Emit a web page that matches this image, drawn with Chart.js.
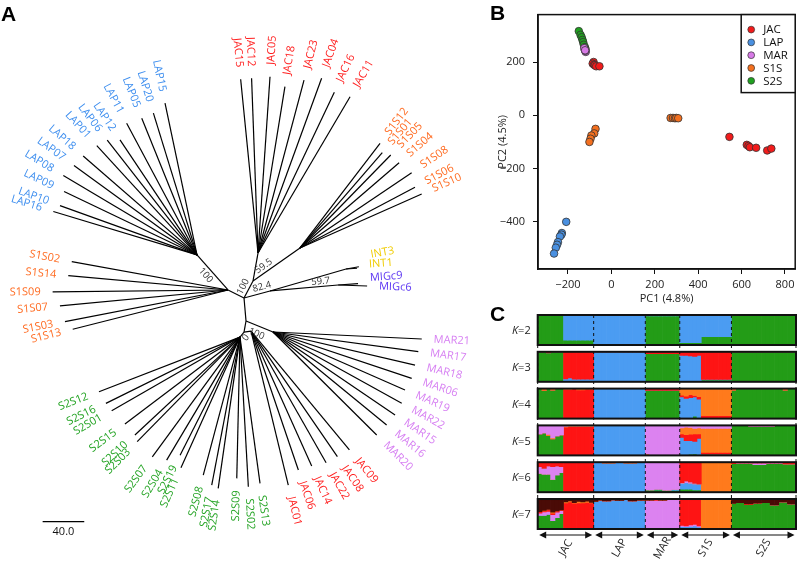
<!DOCTYPE html>
<html><head><meta charset="utf-8">
<script src="https://cdn.jsdelivr.net/npm/chart.js@4.4.0/dist/chart.umd.min.js"></script>
<style>
html,body{margin:0;padding:0;background:#fff;width:800px;height:563px;overflow:hidden;position:relative}
canvas{position:absolute}
.panel{position:absolute;font:bold 21px 'Liberation Sans',Arial,sans-serif;line-height:24px;color:#000}
</style></head><body>
<canvas id="tree" width="490" height="563" style="left:0;top:0"></canvas>
<canvas id="pca" width="310" height="305" style="left:490px;top:0"></canvas>
<canvas id="struct" width="310" height="263" style="left:490px;top:300px"></canvas>
<div class="panel" style="left:1px;top:2px">A</div>
<div class="panel" style="left:490px;top:1px">B</div>
<div class="panel" style="left:490px;top:302px">C</div>
<script>
// ================= DATA =================
// ---- Panel A: unrooted tree. Internal nodes: [node, parent, angle(deg), branch length]
const TREE_NODES = [
  ['S1Sl','N1',153.4,17.2], ['LAPc','S1Sl',131.5,45.0],
  ['A59','N1',62.1,18.5], ['JACt','A59',79.9,27.3], ['S1Sr','A59',35.1,55.2],
  ['M1','N1',15.1,25.9], ['INTc','M1',16.1,76.1], ['MIGc','M1',5.0,65.7],
  ['N2','N1',-85.0,22.2], ['MARc','N2',-22.2,28.0], ['N3','N2',-100.3,10.8],
  ['S2Sc','N3',-128.7,6.2], ['JACb','N3',8.1,6.8]
];
// tips: [label, angle(deg), branch length]
const LAP_TIPS = [['LAP15',101.9,149.1],['LAP20',107.1,142.6],['LAP05',112.0,141.8],['LAP11',118.1,143.6],['LAP12',123.8,133.1],['LAP06',128.0,140.2],['LAP01',132.5,142.6],['LAP18',139.0,145.0],['LAP07',144.0,146.2],['LAP08',149.3,149.5],['LAP09',154.5,141.6],['LAP10',160.2,140.0],['LAP16',163.2,144.3]];
const JAC_TOP_TIPS = [['JAC15',95.7,167.9],['JAC12',92.1,168.1],['JAC05',86.1,169.9],['JAC18',80.8,162.0],['JAC23',75.1,172.1],['JAC04',70.0,178.8],['JAC16',64.6,171.1],['JAC11',59.5,174.4]];
const S1S_RIGHT_TIPS = [['S1S12',52.6,126.7],['S1S01',49.2,121.1],['S1S05',45.7,124.9],['S1S04',40.7,125.7],['S1S08',34.0,129.5],['S1S06',27.8,125.0],['S1S10',23.9,128.0]];
const S1S_LEFT_TIPS = [['S1S02',169.7,152.7],['S1S14',174.9,154.2],['S1S09',180.6,168.6],['S1S07',185.4,162.3],['S1S03',191.0,159.7],['S1S13',194.2,154.0]];
const INT_TIPS = [['INT3',10,12.5],['INT1',4,10.6]];
const MIGC_TIPS = [['MIGc9',4,19.2],['MIGc6',-2,27.9]];
const MAR_TIPS = [['MAR21',-2.7,143.2],['MAR17',-7.7,141.0],['MAR18',-13.1,140.2],['MAR06',-18.5,140.6],['MAR19',-23.7,138.6],['MAR22',-29.0,141.5],['MAR15',-34.2,141.9],['MAR16',-39.3,141.2],['MAR20',-44.8,140.5]];
const JAC_BOTTOM_TIPS = [['JAC09',-50.4,148.4],['JAC08',-55.5,146.6],['JAC22',-60.3,145.7],['JAC14',-65.8,142.3],['JAC06',-71.2,141.2],['JAC01',-76.4,152.4]];
const S2S_TIPS = [['S2S12',201.2,145.4],['S2S16',206.3,143.8],['S2S01',209.9,142.3],['S2S15',217.1,138.7],['S2S10',223.0,138.1],['S2S03',225.5,141.0],['S2S07',233.8,142.7],['S2S04',239.2,137.7],['S2S19',243.1,127.3],['S2S11',245.7,137.9],['S2S08',255.1,137.3],['S2S17',259.2,144.9],['S2S14',261.8,146.9],['S2S09',268.7,135.9],['S2S02',273.2,144.1],['S2S13',277.8,142.0]];
const SUPPORT = [['100','LAPc'],['100','A59'],['59.5','S1Sr'],['82.4','M1'],['59.7','MIGc'],['100','MARc'],['0','S2Sc']];
const SCALE_BAR = 40.0;

// ---- Panel B: PCA (PC1, PC2)
const PCA_GROUPS = ['JAC','LAP','MAR','S1S','S2S'];
const PC_JAC = [[-82,200],[-86,194],[-80,190],[-76,188],[-70,184],[-55,184],[544,-81],[624,-111],[632,-115],[638,-120],[667,-122],[718,-132],[737,-125]];
const PC_LAP = [[-208,-400],[-228,-442],[-230,-448],[-237,-455],[-246,-476],[-250,-486],[-256,-497],[-264,-519]];
const PC_MAR = [[-118,238],[-120,242],[-122,246],[-125,252],[-121,244]];
const PC_S1S = [[273,-10],[284,-10],[293,-11],[299,-10],[308,-11],[-73,-51],[-79,-68],[-92,-76],[-96,-88],[-101,-100]];
const PC_S2S = [[-150,316],[-142,302],[-137,293],[-133,283],[-130,275],[-127,265],[-122,256],[-119,249]];
const PC1_TICKS = [-200,0,200,400,600,800];
const PC2_TICKS = [-400,-200,0,200];

// ---- Panel C: ancestry proportions. Runs of individuals: [count, q1..qK] (top to bottom)
const STRUCT_GROUPS = ['JAC','LAP','MAR','S1S','S2S'];
const STRUCT_SIZES = [13,12,8,12,15];
const Q_K2 = [[6,0,1],[7,0.84,0.16],[12,1,0],[8,0.03,0.97],[5,0.92,0.08],[7,0.72,0.28],[15,0,1]];
const Q_K3 = [[2,0,0,1],[1,0.04,0,0.96],[3,0,0,1],[1,0.9,0.1,0],[1,0.87,0.13,0],[5,0.91,0.09,0],[12,0,1,0],[8,0.06,0,0.94],[2,0.12,0.88,0],[1,0.14,0.83,0.03],[1,0.15,0.83,0.02],[1,0.12,0.86,0.02],[7,0.92,0.02,0.06],[15,0,0,1]];
const Q_K4 = [[1,0,0,0,1],[1,0.06,0,0,0.94],[1,0,0,0,1],[1,0.05,0,0,0.95],[2,0,0,0,1],[2,0.03,0.97,0,0],[1,0,1,0,0],[2,0.04,0.96,0,0],[2,0.02,0.98,0,0],[12,0,0,1,0],[8,0,0.06,0,0.94],[1,0.22,0.06,0.72,0],[1,0.25,0.08,0.67,0],[1,0.2,0.1,0.7,0],[1,0.23,0.05,0.64,0.08],[1,0.27,0.08,0.65,0],[7,0.9,0.08,0,0.02],[1,0.05,0,0,0.95],[11,0,0,0,1],[1,0.05,0,0,0.95],[2,0,0,0,1]];
const Q_K5 = [[1,0.28,0,0,0,0.72],[1,0.25,0,0,0,0.75],[1,0.3,0.04,0,0,0.66],[1,0.42,0.03,0,0,0.55],[1,0.35,0,0,0,0.65],[1,0.32,0,0,0,0.68],[1,0.03,0.03,0.94,0,0],[6,0.02,0.02,0.96,0,0],[12,0,0,0,1,0],[1,0.95,0.05,0,0,0],[7,1,0,0,0,0],[1,0.08,0.2,0.12,0.6,0],[1,0.06,0.25,0.2,0.49,0],[1,0.07,0.22,0.22,0.45,0.04],[1,0.1,0.18,0.25,0.42,0.05],[1,0.08,0.2,0.15,0.57,0],[7,0.1,0.8,0.06,0,0.04],[4,0,0,0,0,1],[6,0.03,0,0,0,0.97],[5,0,0,0,0,1]];
const Q_K6 = [[1,0.15,0,0.22,0,0,0.63],[1,0.2,0,0.2,0,0,0.6],[1,0.12,0,0.28,0,0,0.6],[1,0.15,0,0.42,0,0,0.43],[1,0.12,0,0.3,0,0,0.58],[1,0.15,0,0.2,0,0,0.65],[7,1,0,0,0,0,0],[2,0,0,0,0,1,0],[3,0,0.04,0,0,0.96,0],[2,0,0,0,0,1,0],[3,0,0.04,0,0,0.96,0],[2,0,0,0,0,1,0],[2,0,0,0.92,0,0,0.08],[2,0,0,0.9,0,0.02,0.08],[2,0,0,0.93,0,0,0.07],[2,0,0,0.91,0,0.03,0.06],[1,0.68,0,0.02,0,0.2,0.1],[1,0.62,0,0.06,0,0.22,0.1],[1,0.66,0,0.04,0,0.2,0.1],[1,0.7,0,0.02,0,0.2,0.08],[1,0.72,0,0,0,0.2,0.08],[7,0,0,0,0.98,0,0.02],[1,0.05,0,0,0,0,0.95],[4,0.02,0,0.02,0,0,0.96],[3,0.02,0,0.06,0,0,0.92],[4,0.02,0,0.03,0,0,0.95],[3,0.06,0,0,0,0,0.94]];
const Q_K7 = [[1,0.42,0,0.05,0.08,0,0.45,0],[1,0.38,0.02,0.03,0.12,0,0.45,0],[1,0.35,0,0.06,0.1,0,0.49,0],[1,0.44,0.03,0.05,0.2,0,0.28,0],[1,0.4,0,0.04,0.18,0,0.38,0],[1,0.36,0,0.03,0.1,0,0.51,0],[1,0.1,0.03,0.87,0,0,0,0],[1,0.06,0.04,0.9,0,0,0,0],[1,0.12,0.02,0.86,0,0,0,0],[1,0.08,0.05,0.87,0,0,0,0],[1,0.1,0.03,0.87,0,0,0,0],[1,0.07,0.04,0.89,0,0,0,0],[1,0.11,0.02,0.87,0,0,0,0],[1,0.08,0,0,0,0.92,0,0],[1,0.04,0,0,0,0.96,0,0],[2,0.06,0,0,0,0.94,0,0],[1,0.03,0,0,0,0.97,0,0],[2,0.05,0,0,0,0.95,0,0],[1,0.02,0,0,0,0.98,0,0],[2,0.06,0,0,0,0.94,0,0],[2,0.04,0,0,0,0.96,0,0],[2,0.04,0,0,0.96,0,0,0],[1,0.02,0,0.03,0.95,0,0,0],[2,0.04,0,0,0.96,0,0,0],[3,0.02,0,0,0.98,0,0,0],[1,0,0,0.88,0.04,0.08,0,0],[1,0,0,0.9,0.02,0.08,0,0],[1,0,0,0.86,0.05,0.09,0,0],[1,0,0,0.85,0.05,0.07,0.03,0],[1,0,0,0.9,0.03,0.05,0,0.02],[7,0,1,0,0,0,0,0],[1,0.15,0,0,0,0,0.85,0],[2,0.12,0,0,0,0,0.88,0],[2,0.16,0,0.03,0,0,0.81,0],[2,0.14,0,0,0,0,0.86,0],[2,0.12,0,0,0,0,0.88,0],[2,0.2,0,0,0,0,0.8,0],[2,0.1,0,0,0,0,0.9,0],[2,0.16,0,0,0,0,0.84,0]];

// ================= STYLE =================
const FONT = "'Open Sans', 'Liberation Sans', sans-serif";
const TIP_COLORS = {JAC:'#ff1f1f', LAP:'#3f8fef', S1S:'#ff6b21', S2S:'#22a322', MAR:'#d67ef2', INT:'#f0cc00', MIG:'#5b35f2'};
const PCA_COLORS = {JAC:'#f21b1b', LAP:'#4a90e0', MAR:'#d77ae6', S1S:'#f4701f', S2S:'#20a020'};
const GREEN='#239c17', BLUE='#4b9cf2', RED='#fe1414', ORANGE='#ff7a1c', PINK='#dc82f0', DARK='#4a0b06', TAN='#b5693d';
// label de-overlap nudges (screen px, vertical) for crowded tips
const LABEL_NUDGE = {INT3:-10, INT1:-3, MIGc9:-5};

// ================= PANEL A =================
const rad = d => d * Math.PI / 180;
const pos = {N1:{x:0,y:0}};
const branches = [];
for (const [n,p,a,l] of TREE_NODES) {
  pos[n] = {x: pos[p].x + l*Math.cos(rad(a)), y: pos[p].y + l*Math.sin(rad(a)), a: a, parent: p};
  branches.push([pos[p], pos[n]]);
}
const CLADES = [[LAP_TIPS,'LAPc'],[JAC_TOP_TIPS,'JACt'],[S1S_RIGHT_TIPS,'S1Sr'],[S1S_LEFT_TIPS,'S1Sl'],[INT_TIPS,'INTc'],[MIGC_TIPS,'MIGc'],[MAR_TIPS,'MARc'],[JAC_BOTTOM_TIPS,'JACb'],[S2S_TIPS,'S2Sc']];
const tips = [];
for (const [list, node] of CLADES) {
  for (const [lab,a,l] of list) {
    const t = {label: lab, a: a, x: pos[node].x + l*Math.cos(rad(a)), y: pos[node].y + l*Math.sin(rad(a))};
    tips.push(t);
    branches.push([pos[node], t]);
  }
}
const treeDatasets = branches.map(([p,c]) => ({
  data: [{x:p.x,y:p.y},{x:c.x,y:c.y}], showLine:true, borderColor:'#000', borderWidth:1.2,
  pointRadius:0, fill:false, tension:0
}));
const SUPPORT_LAYOUT = {LAPc:[0.55,1,7], A59:[0.5,1,6], S1Sr:[0.3,1,6], M1:[0.75,1,6], MIGc:[0.75,1,5], MARc:[0.5,-1,8], S2Sc:[0.5,1,5]};

function drawRotText(ctx, text, x, y, angDeg, gapAlign) {
  const c = Math.cos(rad(angDeg));
  ctx.save();
  ctx.translate(x, y);
  if (c < -1e-6) { ctx.rotate(-rad(angDeg - 180)); ctx.textAlign = gapAlign ? 'right' : 'center'; }
  else { ctx.rotate(-rad(angDeg)); ctx.textAlign = gapAlign ? 'left' : 'center'; }
  ctx.textBaseline = 'middle';
  ctx.fillText(text, 0, 0);
  ctx.restore();
}

const treeLabels = {
  id:'treeLabels',
  afterDatasetsDraw(chart) {
    const ctx = chart.ctx, xs = chart.scales.x, ys = chart.scales.y;
    const GAP = 12;
    ctx.font = '11px ' + FONT;
    for (const t of tips) {
      const px = xs.getPixelForValue(t.x), py = ys.getPixelForValue(t.y);
      const ax = px + GAP*Math.cos(rad(t.a)), ay = py - GAP*Math.sin(rad(t.a)) + (LABEL_NUDGE[t.label] || 0);
      const key = t.label.startsWith('MIG') ? 'MIG' : t.label.slice(0,3);
      ctx.fillStyle = TIP_COLORS[key];
      drawRotText(ctx, t.label, ax, ay, t.a, true);
    }
    ctx.font = '9.5px ' + FONT;
    ctx.fillStyle = '#333';
    for (const [txt, node] of SUPPORT) {
      const c = pos[node], p = pos[c.parent];
      const [tt, side, off] = SUPPORT_LAYOUT[node];
      const x0 = xs.getPixelForValue(p.x), y0 = ys.getPixelForValue(p.y);
      const x1 = xs.getPixelForValue(c.x), y1 = ys.getPixelForValue(c.y);
      const mx = x0 + (x1-x0)*tt, my = y0 + (y1-y0)*tt;
      const na = rad(c.a + side*90);
      drawRotText(ctx, txt, mx + off*Math.cos(na), my - off*Math.sin(na), c.a, false);
    }
    const bx0 = -193.6, by = -215.1;
    const sx0 = xs.getPixelForValue(bx0), sx1 = xs.getPixelForValue(bx0 + SCALE_BAR), sy = ys.getPixelForValue(by);
    ctx.strokeStyle = '#000'; ctx.lineWidth = 1.2;
    ctx.beginPath(); ctx.moveTo(sx0, sy); ctx.lineTo(sx1, sy); ctx.stroke();
    ctx.fillStyle = '#111'; ctx.font = '11px ' + FONT; ctx.textAlign = 'center'; ctx.textBaseline = 'middle';
    ctx.fillText(SCALE_BAR.toFixed(1), (sx0+sx1)/2, sy + 10);
  }
};

new Chart(document.getElementById('tree'), {
  type:'scatter',
  data:{datasets: treeDatasets},
  options:{
    responsive:false, animation:false, events:[],
    layout:{padding:0},
    plugins:{legend:{display:false}, tooltip:{enabled:false}},
    scales:{
      x:{type:'linear', display:false, min:-234.6, max:236.5},
      y:{type:'linear', display:false, min:-254.8, max:286.5}
    }
  },
  plugins:[treeLabels]
});

// ================= PANEL B =================
const fmt = v => v < 0 ? '\u2212' + Math.abs(v) : String(v);
const PCA_DATA = {JAC:PC_JAC, LAP:PC_LAP, MAR:PC_MAR, S1S:PC_S1S, S2S:PC_S2S};
const pcaBox = {
  id:'pcaBox',
  afterDraw(chart) {
    const ctx = chart.ctx, a = chart.chartArea;
    ctx.save();
    ctx.strokeStyle = '#111'; ctx.lineWidth = 1.5;
    ctx.strokeRect(a.left, a.top, a.right - a.left, a.bottom - a.top);
    const w = 54, h = 78, lx = a.right - w, ly = a.top;
    ctx.fillStyle = '#fff'; ctx.fillRect(lx, ly, w, h);
    ctx.strokeRect(lx, ly, w, h);
    ctx.font = '11.5px ' + FONT; ctx.textBaseline = 'middle'; ctx.textAlign = 'left';
    PCA_GROUPS.forEach((g, i) => {
      const y = ly + 15 + i*12.8;
      ctx.beginPath(); ctx.arc(lx + 10, y, 3.4, 0, 2*Math.PI);
      ctx.fillStyle = PCA_COLORS[g]; ctx.fill();
      ctx.lineWidth = 0.7; ctx.strokeStyle = '#333'; ctx.stroke();
      ctx.fillStyle = '#111'; ctx.fillText(g, lx + 22, y + 0.5);
    });
    ctx.restore();
  }
};
new Chart(document.getElementById('pca'), {
  type:'scatter',
  data:{datasets: PCA_GROUPS.map(g => ({
    label:g, data: PCA_DATA[g].map(([x,y]) => ({x,y})),
    backgroundColor: PCA_COLORS[g], borderColor:'#333', borderWidth:0.8, pointRadius:3.8
  }))},
  options:{
    responsive:false, animation:false, events:[],
    layout:{padding:{top:9, right:3, left:0, bottom:0}},
    plugins:{legend:{display:false}, tooltip:{enabled:false}},
    scales:{
      x:{type:'linear', min:-338, max:847,
         afterFit(s){ s.height = 36; },
         afterBuildTicks(s){ s.ticks = PC1_TICKS.map(v => ({value:v})); },
         ticks:{color:'#222', padding:4, maxRotation:0, autoSkip:false, font:{family:FONT, size:11}, callback:fmt},
         grid:{drawOnChartArea:false, drawTicks:true, tickLength:5, tickColor:'#111', tickWidth:1},
         border:{display:true, color:'#111', width:1.5},
         title:{display:true, text:'PC1 (4.8%)', color:'#222', font:{family:FONT, size:11}, padding:{top:0,bottom:0}}},
      y:{type:'linear', min:-577, max:378,
         afterFit(s){ s.width = 48; },
         afterBuildTicks(s){ s.ticks = PC2_TICKS.map(v => ({value:v})); },
         ticks:{color:'#222', padding:8, autoSkip:false, font:{family:FONT, size:11}, callback:fmt},
         grid:{drawOnChartArea:false, drawTicks:true, tickLength:5, tickColor:'#111', tickWidth:1},
         border:{display:true, color:'#111', width:1.5},
         title:{display:true, text:'PC2 (4.5%)', color:'#222', font:{family:FONT, size:11}, padding:{top:6,bottom:0}}}
    }
  },
  plugins:[pcaBox]
});

// ================= PANEL C =================
const ROWS = [
  {k:2, q:Q_K2, colors:[BLUE,GREEN]},
  {k:3, q:Q_K3, colors:[RED,BLUE,GREEN]},
  {k:4, q:Q_K4, colors:[ORANGE,RED,BLUE,GREEN]},
  {k:5, q:Q_K5, colors:[PINK,ORANGE,RED,BLUE,GREEN]},
  {k:6, q:Q_K6, colors:[RED,TAN,PINK,ORANGE,BLUE,GREEN]},
  {k:7, q:Q_K7, colors:[DARK,ORANGE,RED,PINK,BLUE,GREEN,TAN]}
];
const ROW_GAP = 0.227;
const indLabels = [];
STRUCT_GROUPS.forEach((g,i) => { for (let j = 0; j < STRUCT_SIZES[i]; j++) indLabels.push(g + (j+1)); });
const structDatasets = [];
ROWS.forEach((row, r) => {
  const inds = [];
  for (const [n, ...p] of row.q) {
    const s = p.reduce((a,b) => a+b, 0);
    for (let i = 0; i < n; i++) inds.push(p.map(v => v/s));
  }
  const top = r * (1 + ROW_GAP);
  row.colors.forEach((col, c) => {
    structDatasets.push({
      data: inds.map(p => {
        let cum = 0; for (let j = 0; j < c; j++) cum += p[j];
        return [top + cum, top + cum + p[c]];
      }),
      backgroundColor: col, borderWidth:0, grouped:false,
      barPercentage:1, categoryPercentage:1
    });
  });
});
const structDeco = {
  id:'structDeco',
  afterDatasetsDraw(chart) {
    const ctx = chart.ctx, a = chart.chartArea, xs = chart.scales.x, ys = chart.scales.y;
    ctx.save();
    const bounds = [a.left];
    let idx = 0;
    STRUCT_SIZES.forEach((n, i) => {
      idx += n;
      if (i < STRUCT_SIZES.length - 1) bounds.push((xs.getPixelForValue(idx-1) + xs.getPixelForValue(idx)) / 2);
    });
    bounds.push(a.right);
    ctx.strokeStyle = '#111'; ctx.lineWidth = 1; ctx.setLineDash([3,3]);
    bounds.forEach(b => { ctx.beginPath(); ctx.moveTo(b, a.top); ctx.lineTo(b, a.bottom); ctx.stroke(); });
    ctx.setLineDash([]);
    ROWS.forEach((row, r) => {
      const y0 = ys.getPixelForValue(r*(1+ROW_GAP)), y1 = ys.getPixelForValue(r*(1+ROW_GAP) + 1);
      ctx.lineWidth = 2; ctx.strokeStyle = '#111';
      ctx.strokeRect(a.left, y0, a.right - a.left, y1 - y0);
      const ym = (y0 + y1)/2 + 1, xr = a.left - 7;
      ctx.fillStyle = '#222'; ctx.textBaseline = 'middle'; ctx.textAlign = 'right';
      ctx.font = '11px ' + FONT;
      const rest = '=' + row.k;
      ctx.fillText(rest, xr, ym);
      const wr = ctx.measureText(rest).width;
      ctx.font = 'italic 11px ' + FONT;
      ctx.fillText('K', xr - wr, ym);
    });
    const ay = a.bottom + 6;
    ctx.fillStyle = '#111'; ctx.strokeStyle = '#111'; ctx.lineWidth = 1.2;
    for (let i = 0; i < STRUCT_GROUPS.length; i++) {
      const x0 = bounds[i] + 1.5, x1 = bounds[i+1] - 1.5;
      ctx.beginPath(); ctx.moveTo(x0 + 4, ay); ctx.lineTo(x1 - 4, ay); ctx.stroke();
      ctx.beginPath(); ctx.moveTo(x0, ay); ctx.lineTo(x0 + 7, ay - 3.5); ctx.lineTo(x0 + 7, ay + 3.5); ctx.closePath(); ctx.fill();
      ctx.beginPath(); ctx.moveTo(x1, ay); ctx.lineTo(x1 - 7, ay - 3.5); ctx.lineTo(x1 - 7, ay + 3.5); ctx.closePath(); ctx.fill();
      ctx.save();
      ctx.translate((x0 + x1)/2, ay + 13);
      ctx.rotate(-rad(60));
      ctx.font = '11px ' + FONT; ctx.textAlign = 'center'; ctx.textBaseline = 'middle'; ctx.fillStyle = '#222';
      ctx.fillText(STRUCT_GROUPS[i], 0, 0);
      ctx.restore();
    }
    ctx.restore();
  }
};
new Chart(document.getElementById('struct'), {
  type:'bar',
  data:{labels: indLabels, datasets: structDatasets},
  options:{
    responsive:false, animation:false, events:[],
    layout:{padding:{left:47.7, right:4, top:15, bottom:34}},
    plugins:{legend:{display:false}, tooltip:{enabled:false}},
    scales:{
      x:{display:false, offset:true},
      y:{display:false, min:0, max:6 + 5*ROW_GAP, reverse:true}
    }
  },
  plugins:[structDeco]
});
</script>
</body></html>
